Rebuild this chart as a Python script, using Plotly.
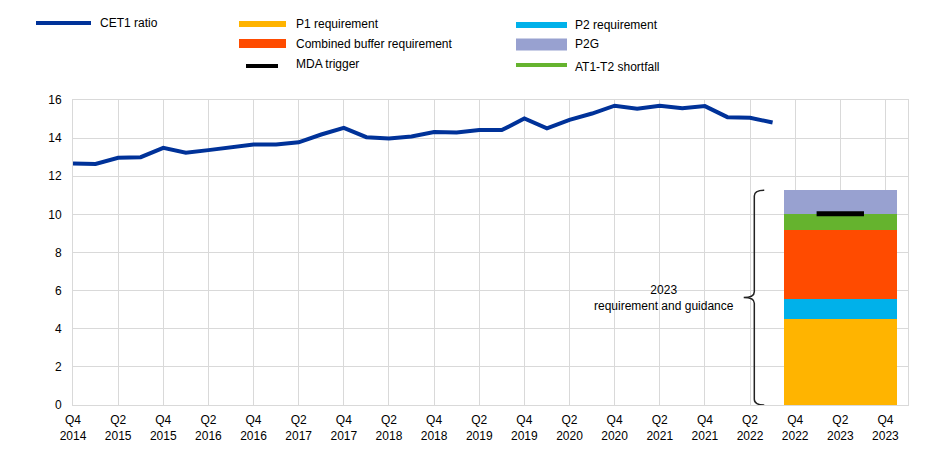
import plotly.graph_objects as go

# ---------------- data ----------------
quarters = ["Q4 2014", "Q1 2015", "Q2 2015", "Q3 2015", "Q4 2015", "Q1 2016", "Q2 2016", "Q3 2016",
            "Q4 2016", "Q1 2017", "Q2 2017", "Q3 2017", "Q4 2017", "Q1 2018", "Q2 2018", "Q3 2018",
            "Q4 2018", "Q1 2019", "Q2 2019", "Q3 2019", "Q4 2019", "Q1 2020", "Q2 2020", "Q3 2020",
            "Q4 2020", "Q1 2021", "Q2 2021", "Q3 2021", "Q4 2021", "Q1 2022", "Q2 2022", "Q3 2022"]
cet1_ratio = [12.67, 12.64, 12.97, 13.00, 13.49, 13.23, 13.37, 13.53,
              13.67, 13.67, 13.78, 14.19, 14.54, 14.05, 13.98, 14.09,
              14.32, 14.30, 14.42, 14.42, 15.03, 14.51, 14.96, 15.29,
              15.70, 15.54, 15.70, 15.57, 15.68, 15.10, 15.07, 14.82]

tick_labels = ["Q4<br>2014", "Q2<br>2015", "Q4<br>2015", "Q2<br>2016", "Q4<br>2016", "Q2<br>2017",
               "Q4<br>2017", "Q2<br>2018", "Q4<br>2018", "Q2<br>2019", "Q4<br>2019", "Q2<br>2020",
               "Q4<br>2020", "Q2<br>2021", "Q4<br>2021", "Q2<br>2022", "Q4<br>2022", "Q2<br>2023",
               "Q4<br>2023"]

stack_names = ["P1 requirement", "P2 requirement", "Combined buffer requirement", "AT1-T2 shortfall", "P2G"]
stack_values = [4.50, 1.07, 3.61, 0.85, 1.24]
mda_trigger = 10.03
bar_label = "2023<br>requirement and guidance"

# ---------------- styling ----------------
FONT = "Arial, Liberation Sans, sans-serif"
BLUE = "#003299"
colors = {"P1 requirement": "#FFB400", "P2 requirement": "#00B1EA",
          "Combined buffer requirement": "#FF4B00", "AT1-T2 shortfall": "#65B32E",
          "P2G": "#98A1D0"}
GRID = "#D9D9D9"

OFF = 8  # page body margin
W, H = 937 - OFF, 462 - OFF
L, R, T, B = 73 - OFF, 29, 100 - OFF, 57
PW, PH = W - L - R, H - T - B

def px2x(px):
    return (px - OFF - L) / PW

def py2y(py):
    return 1 - (py - OFF - T) / PH

x_idx = list(range(len(quarters)))
bar_center = 34
bar_width = 5
tick_pos = list(range(0, 37, 2))

fig = go.Figure()

fig.add_trace(go.Scatter(x=x_idx, y=cet1_ratio, mode="lines",
                         line=dict(color=BLUE, width=4), showlegend=False,
                         name="CET1 ratio"))

for nm, v in zip(stack_names, stack_values):
    fig.add_trace(go.Bar(x=[bar_center], y=[v], width=bar_width, name=nm,
                         marker=dict(color=colors[nm], line=dict(width=0)),
                         showlegend=False))

fig.add_trace(go.Scatter(x=[bar_center - 1.05, bar_center + 1.05], y=[mda_trigger, mda_trigger],
                         mode="lines", line=dict(color="black", width=5),
                         showlegend=False, name="MDA trigger"))

# bracket
total = sum(stack_values)
mid = total / 2
xl, xt, xm = 30.19, 30.63, 29.72
r = 0.3
path = (f"M {xt},{total} Q {xl},{total} {xl},{total - r} "
        f"L {xl},{mid + r} Q {xl},{mid} {xm},{mid} Q {xl},{mid} {xl},{mid - r} "
        f"L {xl},{r} Q {xl},0 {xt},0")
shapes = [dict(type="path", xref="x", yref="y", path=path,
               line=dict(color="#222222", width=1.5))]

annotations = [dict(x=29.4, y=mid, xref="x", yref="y", text=bar_label, showarrow=False,
                    xanchor="right", yanchor="middle", align="center",
                    font=dict(family=FONT, size=12, color="#000000"))]

# manual legend (screen pixel positions)
legend_items = [
    ("CET1 ratio", BLUE, 36, 91, 23, 4, 100, 23),
    ("P1 requirement", colors["P1 requirement"], 239, 286, 24, 6, 296, 24),
    ("Combined buffer requirement", colors["Combined buffer requirement"], 239, 286, 43.5, 9, 296, 44),
    ("MDA trigger", "#000000", 246, 278, 66, 4, 296, 64),
    ("P2 requirement", colors["P2 requirement"], 516, 567, 25, 6, 575, 25),
    ("P2G", colors["P2G"], 516, 567, 44.5, 12, 575, 44),
    ("AT1-T2 shortfall", colors["AT1-T2 shortfall"], 516, 567, 65, 4, 575, 67),
]
for text, col, x0, x1, yc, th, tx, ty in legend_items:
    shapes.append(dict(type="rect", xref="paper", yref="paper",
                       x0=px2x(x0), x1=px2x(x1), y0=py2y(yc - th / 2), y1=py2y(yc + th / 2),
                       fillcolor=col, line=dict(width=0)))
    annotations.append(dict(x=px2x(tx - 2), y=py2y(ty), xref="paper", yref="paper",
                            text=text, showarrow=False, xanchor="left", yanchor="middle",
                            font=dict(family=FONT, size=12, color="#000000")))

tickfont = dict(family=FONT, size=12, color="#000000")

fig.update_layout(
    width=W, height=H,
    margin=dict(l=L, r=R, t=T, b=B),
    paper_bgcolor="white", plot_bgcolor="white",
    barmode="stack", bargap=0,
    font=dict(family=FONT, size=12, color="#000000"),
    shapes=shapes, annotations=annotations,
    showlegend=False,
    xaxis=dict(range=[0, 37], tickmode="array", tickvals=tick_pos, ticktext=tick_labels,
               showgrid=True, gridcolor=GRID, gridwidth=1,
               showline=True, linecolor=GRID, linewidth=1, mirror=True,
               zeroline=False, ticks="", tickangle=0, ticklabelstandoff=4, tickfont=tickfont),
    yaxis=dict(range=[0, 16], tickmode="array", tickvals=list(range(0, 17, 2)),
               showgrid=True, gridcolor=GRID, gridwidth=1,
               showline=True, linecolor=GRID, linewidth=1, mirror=True,
               zeroline=False, ticks="", ticklabelstandoff=8, tickfont=tickfont),
)

fig.write_html("out.html")
